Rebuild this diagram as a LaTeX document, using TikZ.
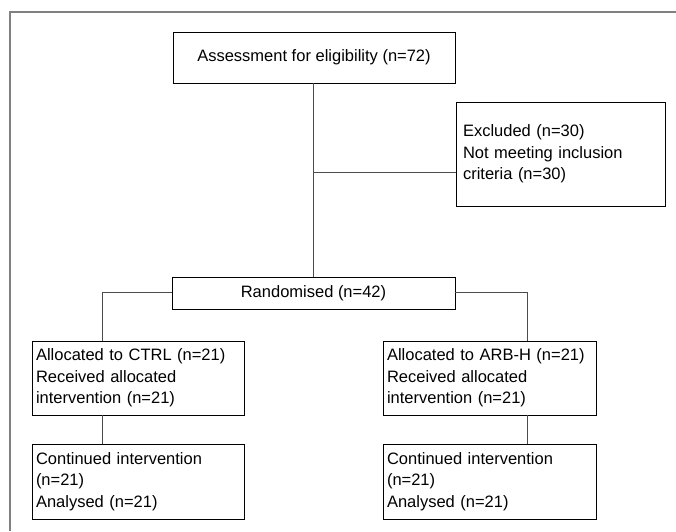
\documentclass[tikz,border=0pt]{standalone}
\usepackage{fontspec}
\setmainfont{Liberation Sans}
\tikzset{
	flowbox/.style={draw=black, line width=0.8pt, inner xsep=4pt, inner ysep=0pt, align=left, font=\fontsize{16.5}{21.7}\selectfont},
	link/.style={draw=black!70, line width=0.8pt}
}
\begin{document}
\begin{tikzpicture}[x=1pt, y=-1pt]
	\useasboundingbox (0,0) rectangle (676,531);

	% Draw the frame
	\draw[black!50, line width=1.5pt] (10,531) -- (10,12) -- (676,12);

	% Draw the boxes
	\node[flowbox, align=center, minimum width=282pt, minimum height=51pt] (assess) at (314,57.5) {Assessment for eligibility (n=72)};
	\node[flowbox, inner xsep=7pt, text width=195pt, minimum height=104pt] (excl) at (560.5,154) {Excluded (n=30)\\Not meeting inclusion\\criteria (n=30)};
	\node[flowbox, align=center, minimum width=283pt, minimum height=32pt] (rand) at (313.5,293) {Randomised (n=42)};
	\node[flowbox, text width=204pt, minimum height=74pt] (ctrl) at (138,378) {Allocated to CTRL (n=21)\\Received allocated\\intervention (n=21)};
	\node[flowbox, text width=205pt, minimum height=74pt] (arbh) at (489.5,378) {Allocated to ARB-H (n=21)\\Received allocated\\intervention (n=21)};
	\node[flowbox, text width=204pt, minimum height=75pt] (contc) at (138,481.5) {Continued intervention\\(n=21)\\Analysed (n=21)};
	\node[flowbox, text width=205pt, minimum height=75pt] (conta) at (489.5,481.5) {Continued intervention\\(n=21)\\Analysed (n=21)};

	% Define the junctions
	\coordinate (split) at (313,172);
	\coordinate (lft) at (102,292);
	\coordinate (rgt) at (527,292);

	% Draw the connectors
	\draw[link] (assess.south -| split) -- (rand.north -| split);
	\draw[link] (split) -- (split -| excl.west);
	\draw[link] (rand.west |- lft) -- (lft) -- (lft |- ctrl.north);
	\draw[link] (rand.east |- rgt) -- (rgt) -- (rgt |- arbh.north);
	\draw[link] (lft |- ctrl.south) -- (lft |- contc.north);
	\draw[link] (rgt |- arbh.south) -- (rgt |- conta.north);
\end{tikzpicture}
\end{document}
